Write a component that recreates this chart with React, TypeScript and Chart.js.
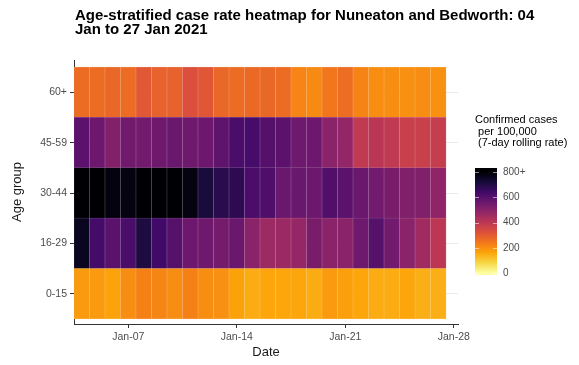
import { useEffect, useRef } from "react";
import { Chart, registerables } from "chart.js";

Chart.register(...registerables);

// ---------- data ----------
const days = [4, 5, 6, 7, 8, 9, 10, 11, 12, 13, 14, 15, 16, 17, 18, 19, 20, 21, 22, 23, 24, 25, 26, 27];
const ageGroups = ["0-15", "16-29", "30-44", "45-59", "60+"];

const rate0to15 = [179, 179, 163, 201, 226, 215, 201, 226, 201, 195, 165, 149, 158, 158, 158, 149, 179, 170, 158, 149, 149, 158, 144, 144];
const rate16to29 = [760, 636, 592, 624, 705, 640, 600, 555, 552, 538, 560, 498, 462, 466, 474, 530, 498, 498, 552, 600, 545, 498, 455, 402];
const rate30to44 = [850, 850, 785, 780, 840, 840, 830, 780, 713, 684, 676, 620, 616, 560, 560, 555, 608, 592, 560, 545, 530, 517, 517, 488];
const rate45to59 = [588, 555, 513, 548, 545, 552, 560, 552, 555, 585, 624, 630, 602, 588, 552, 555, 498, 482, 390, 405, 390, 371, 371, 380];
const rate60plus = [265, 265, 275, 265, 305, 285, 285, 325, 310, 275, 265, 270, 272, 265, 217, 208, 245, 262, 218, 201, 201, 198, 202, 198];

const xTickDays = [7, 14, 21, 28];
const xTickLabels = ["Jan-07", "Jan-14", "Jan-21", "Jan-28"];
const legendTicks = [0, 200, 400, 600, 800];
const legendTickLabels = ["0", "200", "400", "600", "800+"];
const legendTitle = ["Confirmed cases", " per 100,000", " (7-day rolling rate)"];
const titleLines = ["Age-stratified case rate heatmap for Nuneaton and Bedworth: 04", "Jan to 27 Jan 2021"];

// ---------- colour helpers ----------
const INFERNO = ["#000004", "#160B39", "#420A68", "#6A176E", "#932667", "#BC3754", "#DD513A", "#F37819", "#FCA50A", "#F6D746", "#FCFFA4"];
const RATE_MAX = 800;

function hexToRgb(h: string): number[] {
  const n = parseInt(h.slice(1), 16);
  return [(n >> 16) & 255, (n >> 8) & 255, n & 255];
}
function rgbStr(c: number[]): string {
  return `rgb(${Math.round(c[0])},${Math.round(c[1])},${Math.round(c[2])})`;
}
function infernoRgb(t: number): number[] {
  const tt = Math.max(0, Math.min(1, t));
  const p = tt * 10;
  const i = Math.min(9, Math.floor(p));
  const f = p - i;
  const a = hexToRgb(INFERNO[i]);
  const b = hexToRgb(INFERNO[i + 1]);
  return [a[0] + (b[0] - a[0]) * f, a[1] + (b[1] - a[1]) * f, a[2] + (b[2] - a[2]) * f];
}
function rateRgb(v: number): number[] {
  return infernoRgb(1 - Math.min(v, RATE_MAX) / RATE_MAX);
}
function rateColor(v: number): string {
  return rgbStr(rateRgb(v));
}
function rateBorder(v: number): string {
  const c = rateRgb(v);
  const k = 0.35;
  return rgbStr([c[0] + (255 - c[0]) * k, c[1] + (255 - c[1]) * k, c[2] + (255 - c[2]) * k]);
}

const FONT = '"Liberation Sans", Arial, Helvetica, sans-serif';

const overlayPlugin = {
  id: "overlay",
  afterDraw(chart: any) {
    const { ctx, chartArea } = chart;
    ctx.save();
    // title
    ctx.fillStyle = "#000000";
    ctx.textAlign = "left";
    ctx.textBaseline = "alphabetic";
    ctx.font = `bold 15px ${FONT}`;
    titleLines.forEach((line, i) => {
      ctx.fillText(line, chartArea.left + 1, 19.5 + i * 14.5);
    });

    // legend title
    const lx = chartArea.right + 17;
    ctx.font = `11px ${FONT}`;
    ctx.textBaseline = "middle";
    legendTitle.forEach((line, i) => {
      ctx.fillText(line, lx, chartArea.top + 60 + i * 11.5);
    });

    // colour bar
    const barTop = chartArea.top + 108;
    const barBottom = chartArea.top + 215;
    const barW = 22;
    const y0 = barBottom - 2;
    const y800 = barTop + 4;
    const yOf = (v: number) => y0 - (v / RATE_MAX) * (y0 - y800);
    const grad = ctx.createLinearGradient(0, yOf(0), 0, yOf(RATE_MAX));
    for (let s = 0; s <= 40; s++) {
      const v = (s / 40) * RATE_MAX;
      grad.addColorStop(s / 40, rateColor(v));
    }
    ctx.fillStyle = grad;
    ctx.fillRect(lx, barTop, barW, barBottom - barTop);

    ctx.strokeStyle = "rgba(255,255,255,0.55)";
    ctx.lineWidth = 1;
    legendTicks.forEach((v) => {
      const y = Math.round(yOf(v)) + 0.5;
      ctx.beginPath();
      ctx.moveTo(lx, y);
      ctx.lineTo(lx + 4, y);
      ctx.moveTo(lx + barW - 4, y);
      ctx.lineTo(lx + barW, y);
      ctx.stroke();
    });

    ctx.fillStyle = "#4d4d4d";
    ctx.font = `10px ${FONT}`;
    ctx.textBaseline = "middle";
    legendTicks.forEach((v, i) => {
      ctx.fillText(legendTickLabels[i], lx + barW + 6, yOf(v));
    });
    ctx.restore();
  },
};

export default function App() {
  const canvasRef = useRef<HTMLCanvasElement | null>(null);

  useEffect(() => {
    if (!canvasRef.current) return;
    const series = [rate0to15, rate16to29, rate30to44, rate45to59, rate60plus];
    const chart = new Chart(canvasRef.current, {
      type: "bar",
      data: {
        datasets: series.map((vals, r) => ({
          label: ageGroups[r],
          data: vals.map((v, i) => ({ x: days[i], y: [r, r + 1] })),
          backgroundColor: vals.map(rateColor),
          borderColor: vals.map(rateBorder),
          borderWidth: 0.5,
          borderSkipped: false,
          grouped: false,
          barPercentage: 1,
          categoryPercentage: 1,
        })) as any,
      },
      options: {
        animation: false,
        responsive: false,
        maintainAspectRatio: false,
        layout: { padding: { top: 60, right: 121, left: 0, bottom: 0 } },
        plugins: {
          legend: { display: false },
          tooltip: { enabled: false },
          title: { display: false },
        },
        scales: {
          x: {
            type: "linear",
            min: 3.5,
            max: 28.27,
            offset: false,
            afterBuildTicks: (s: any) => {
              s.ticks = xTickDays.map((v) => ({ value: v }));
            },
            afterFit: (s: any) => {
              s.height = 41;
            },
            ticks: {
              autoSkip: false,
              maxRotation: 0,
              padding: 3,
              color: "#4d4d4d",
              font: { family: FONT, size: 10.5 },
              callback: (v: any) => {
                const idx = xTickDays.indexOf(Number(v));
                return idx >= 0 ? xTickLabels[idx] : "";
              },
            },
            grid: { display: true, drawOnChartArea: false, offset: false, tickLength: 4, tickColor: "#333333", tickWidth: 1 },
            border: { display: true, color: "#333333", width: 1 },
            title: { display: true, text: "Date", color: "#1a1a1a", font: { family: FONT, size: 13 }, padding: { top: 0, bottom: 5 } },
          },
          y: {
            type: "linear",
            min: -0.1,
            max: 5.14,
            afterBuildTicks: (s: any) => {
              s.ticks = ageGroups.map((_, i) => ({ value: i + 0.5 }));
            },
            afterFit: (s: any) => {
              s.width = 74;
            },
            ticks: {
              autoSkip: false,
              padding: 3,
              color: "#4d4d4d",
              font: { family: FONT, size: 10.5 },
              callback: (v: any) => ageGroups[Math.floor(Number(v))] ?? "",
            },
            grid: { display: true, drawOnChartArea: true, color: "#ebebeb", lineWidth: 1, tickLength: 4, tickColor: "#333333", tickWidth: 1 },
            border: { display: true, color: "#333333", width: 1 },
            title: { display: true, text: "Age group", color: "#1a1a1a", font: { family: FONT, size: 13 }, padding: { top: 10, bottom: 0 } },
          },
        },
      } as any,
      plugins: [overlayPlugin],
    });
    return () => chart.destroy();
  }, []);

  return (
    <div style={{ position: "fixed", left: 0, top: 0, width: 579, height: 365, background: "#ffffff" }}>
      <canvas ref={canvasRef} width={579} height={365} style={{ width: 579, height: 365, display: "block" }} />
    </div>
  );
}
